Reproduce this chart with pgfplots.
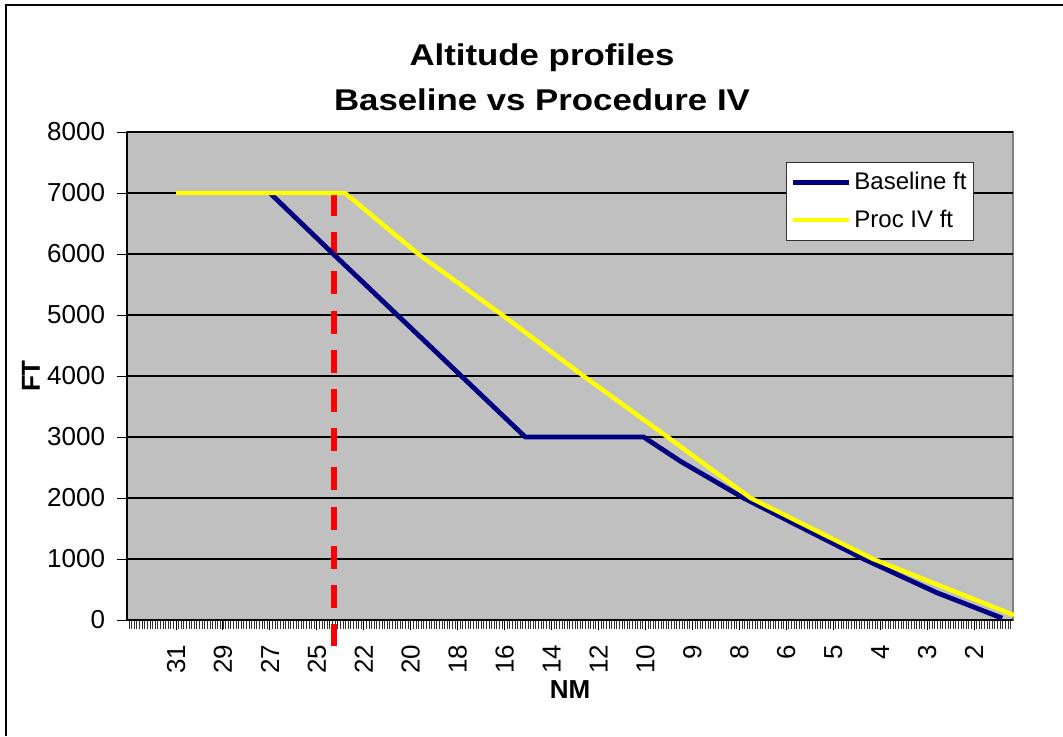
\documentclass[border=0pt]{standalone}
\usepackage{pgfplots}
\pgfplotsset{compat=1.18}
\usepackage{fontspec}
\setmainfont{Liberation Sans}
\newfontfamily\titlefont[FakeStretch=1.16]{Liberation Sans}
\definecolor{plotgray}{RGB}{192,192,192}
\definecolor{navyline}{RGB}{0,0,128}
\definecolor{yel}{RGB}{255,255,0}
\begin{document}
\begin{tikzpicture}
\useasboundingbox (0,0) rectangle (531.5pt,368pt);
\fill[white] (0,0) rectangle (531.5pt,368pt);
\draw[black, line width=0.6pt] (3pt,0pt) -- (3pt,365.5pt) -- (531.5pt,365.5pt);
\node[anchor=base, font=\titlefont\bfseries\fontsize{15}{18}\selectfont, inner sep=0pt] at (271pt,335.5pt) {Altitude profiles};
\node[anchor=base, font=\titlefont\bfseries\fontsize{15}{18}\selectfont, inner sep=0pt] at (271pt,313pt) {Baseline vs Procedure IV};
\begin{axis}[
  at={(63.5pt,58pt)}, anchor=south west,
  width=443pt, height=244pt, scale only axis,
  xmin=-1.045, xmax=17.83, ymin=0, ymax=8000,
  axis x line*=bottom, axis y line*=left,
  axis line style={-, black, line width=0.9pt},
  axis background/.style={fill=plotgray, draw=gray, line width=0.8pt},
  clip=false,
  xtick={0,...,17},
  xticklabels={31,29,27,25,22,20,18,16,14,12,10,9,8,6,5,4,3,2},
  minor xtick={-1.0,-0.944444,...,17.85},
  ytick={0,1000,...,8000},
  tick align=outside,
  major tick length=4.8pt, minor tick length=4.5pt,
  every tick/.style={black, line width=0.5pt},
  minor tick style={black!80, line width=0.45pt},
  ymajorgrids, major grid style={black, line width=0.6pt},
  /pgf/number format/1000 sep={},
  /pgf/number format/assume math mode=true,
  ticklabel style={font=\fontsize{13}{15}\selectfont},
  xticklabel style={rotate=90, anchor=east, inner sep=0pt, xshift=-7.5pt},
  yticklabel style={anchor=east, inner sep=0pt, xshift=-6pt},
  xlabel={\bfseries NM}, ylabel={\bfseries FT},
  label style={font=\fontsize{13}{15}\selectfont},
  xlabel style={at={(axis description cs:0.5,-0.1434)}, anchor=center},
  ylabel style={at={(axis description cs:-0.1084,0.5)}, anchor=center, rotate=0},
  legend style={at={(rel axis cs:0.956,0.9385)}, anchor=north east,
    draw=black!80, line width=0.5pt, fill=white,
    font=\fontsize{12}{14}\selectfont, row sep=5.5pt,
    inner xsep=2pt, inner ysep=3.5pt,
    nodes={inner sep=1.5pt}},
  legend cell align=left,
  legend image code/.code={\draw[#1] (0pt,0pt) -- (28pt,0pt);},
]
\addplot[red, line width=3pt, dash pattern=on 11.5pt off 8.1pt, forget plot] coordinates {(3.37,7000) (3.37,-426)};
\addplot[navyline, line width=2.4pt, line join=round] coordinates {
(2.00,7000) (3.35,6000) (7.44,3000) (9.96,3000) (10.75,2600) (12.09,2000) (14.65,1000) (16.2,450) (17.6,30)
};
\addlegendentry{Baseline ft}
\addplot[yel, line width=2.2pt, line join=round] coordinates {
(0,7000) (3.60,7000) (5.16,6000) (6.95,5000) (8.68,4000) (10.47,3000) (12.24,2000) (14.85,1000) (17.85,80)
};
\addlegendentry{Proc IV ft}
\end{axis}
\end{tikzpicture}
\end{document}
